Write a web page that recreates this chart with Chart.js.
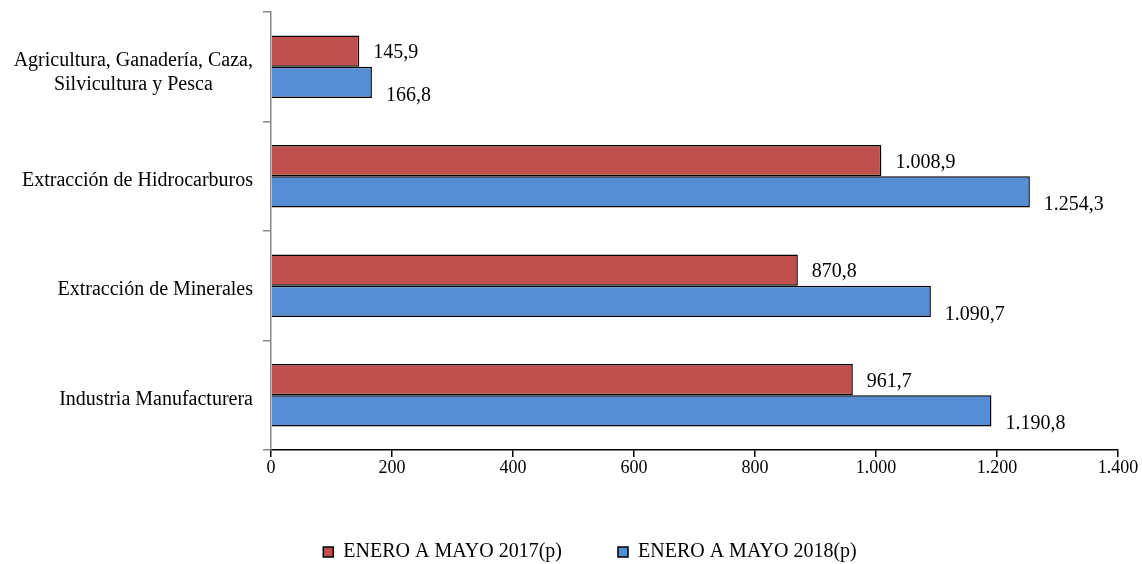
<!DOCTYPE html>
<html>
<head>
<meta charset="utf-8">
<script src="https://cdn.jsdelivr.net/npm/chart.js@4/dist/chart.umd.min.js"></script>
<style>
  html, body { margin: 0; padding: 0; background: #fff; }
  #wrap { width: 1142px; height: 564px; }
</style>
</head>
<body>
<div id="wrap"><canvas id="chart"></canvas></div>
<script>
const categories = [
  ["Agricultura, Ganadería, Caza,", "Silvicultura y Pesca"],
  "Extracción de Hidrocarburos",
  "Extracción de Minerales",
  "Industria Manufacturera"
];
const values2017 = [145.9, 1008.9, 870.8, 961.7];
const values2018 = [166.8, 1254.3, 1090.7, 1190.8];
const seriesNames = ["ENERO A MAYO 2017(p)", "ENERO A MAYO 2018(p)"];

const FONT = "'Liberation Serif', 'Times New Roman', serif";

// 1254.3 -> "1.254,3"
function fmt(v, dec) {
  const parts = v.toFixed(dec).split(".");
  parts[0] = parts[0].replace(/\B(?=(\d{3})+(?!\d))/g, ".");
  return parts.join(",");
}

const valueLabels = {
  id: "valueLabels",
  afterDatasetsDraw(chart) {
    const ctx = chart.ctx;
    ctx.save();
    ctx.font = "20px " + FONT;
    ctx.fillStyle = "#000";
    ctx.textAlign = "left";
    ctx.textBaseline = "middle";
    chart.data.datasets.forEach((ds, di) => {
      chart.getDatasetMeta(di).data.forEach((bar, i) => {
        const dy = di === 0 ? 2 : 13;
        ctx.fillText(fmt(ds.data[i], 1), bar.x + 14, bar.y + dy);
      });
    });
    ctx.restore();
  }
};

// category labels: right-aligned, multi-line block centred on its widest line
const catLabels = {
  id: "catLabels",
  afterDraw(chart) {
    const ctx = chart.ctx;
    const y = chart.scales.y;
    const right = 253;
    ctx.save();
    ctx.font = "20px " + FONT;
    ctx.fillStyle = "#000";
    ctx.textBaseline = "middle";
    categories.forEach((lab, i) => {
      const lines = Array.isArray(lab) ? lab : [lab];
      const cy = y.getPixelForValue(i) + (lines.length > 1 ? 6 : 4);
      const lh = 24;
      const maxW = Math.max(...lines.map(l => ctx.measureText(l).width));
      lines.forEach((l, k) => {
        const ly = cy + (k - (lines.length - 1) / 2) * lh;
        if (lines.length > 1) {
          ctx.textAlign = "center";
          ctx.fillText(l, right - maxW / 2, ly);
        } else {
          ctx.textAlign = "right";
          ctx.fillText(l, right, ly);
        }
      });
    });
    ctx.restore();
  }
};

new Chart(document.getElementById("chart"), {
  type: "bar",
  data: {
    labels: categories,
    datasets: [
      {
        label: seriesNames[0],
        data: values2017,
        backgroundColor: "#C0504D",
        borderColor: "#000",
        borderWidth: 1.5
      },
      {
        label: seriesNames[1],
        data: values2018,
        backgroundColor: "#558ED5",
        borderColor: "#000",
        borderWidth: 1.5
      }
    ]
  },
  options: {
    indexAxis: "y",
    responsive: true,
    maintainAspectRatio: false,
    animation: false,
    datasets: {
      bar: { categoryPercentage: 0.57, barPercentage: 1.0 }
    },
    layout: { padding: { top: 12, right: 24, left: 62, bottom: -8 } },
    plugins: {
      legend: {
        position: "bottom",
        labels: {
          font: { family: FONT, size: 20 },
          color: "#000",
          boxWidth: 10,
          boxHeight: 10,
          padding: 56
        }
      },
      tooltip: { enabled: false }
    },
    scales: {
      x: {
        min: 0,
        max: 1400,
        ticks: {
          stepSize: 200,
          color: "#000",
          padding: 0,
          font: { family: FONT, size: 18 },
          callback: v => fmt(v, 0)
        },
        grid: {
          drawOnChartArea: false,
          drawTicks: true,
          tickLength: 7,
          color: "#000",
          lineWidth: 1.5
        },
        border: { color: "#000", width: 1.5 },
        afterFit(scale) { scale.height = 36; }
      },
      y: {
        ticks: { display: false },
        grid: {
          offset: true,
          drawOnChartArea: false,
          drawTicks: true,
          tickLength: 8,
          color: "#868686",
          lineWidth: 1.5
        },
        border: { color: "#868686", width: 1.5 },
        afterFit(scale) { scale.width = 209; }
      }
    }
  },
  plugins: [valueLabels, catLabels]
});
</script>
</body>
</html>
